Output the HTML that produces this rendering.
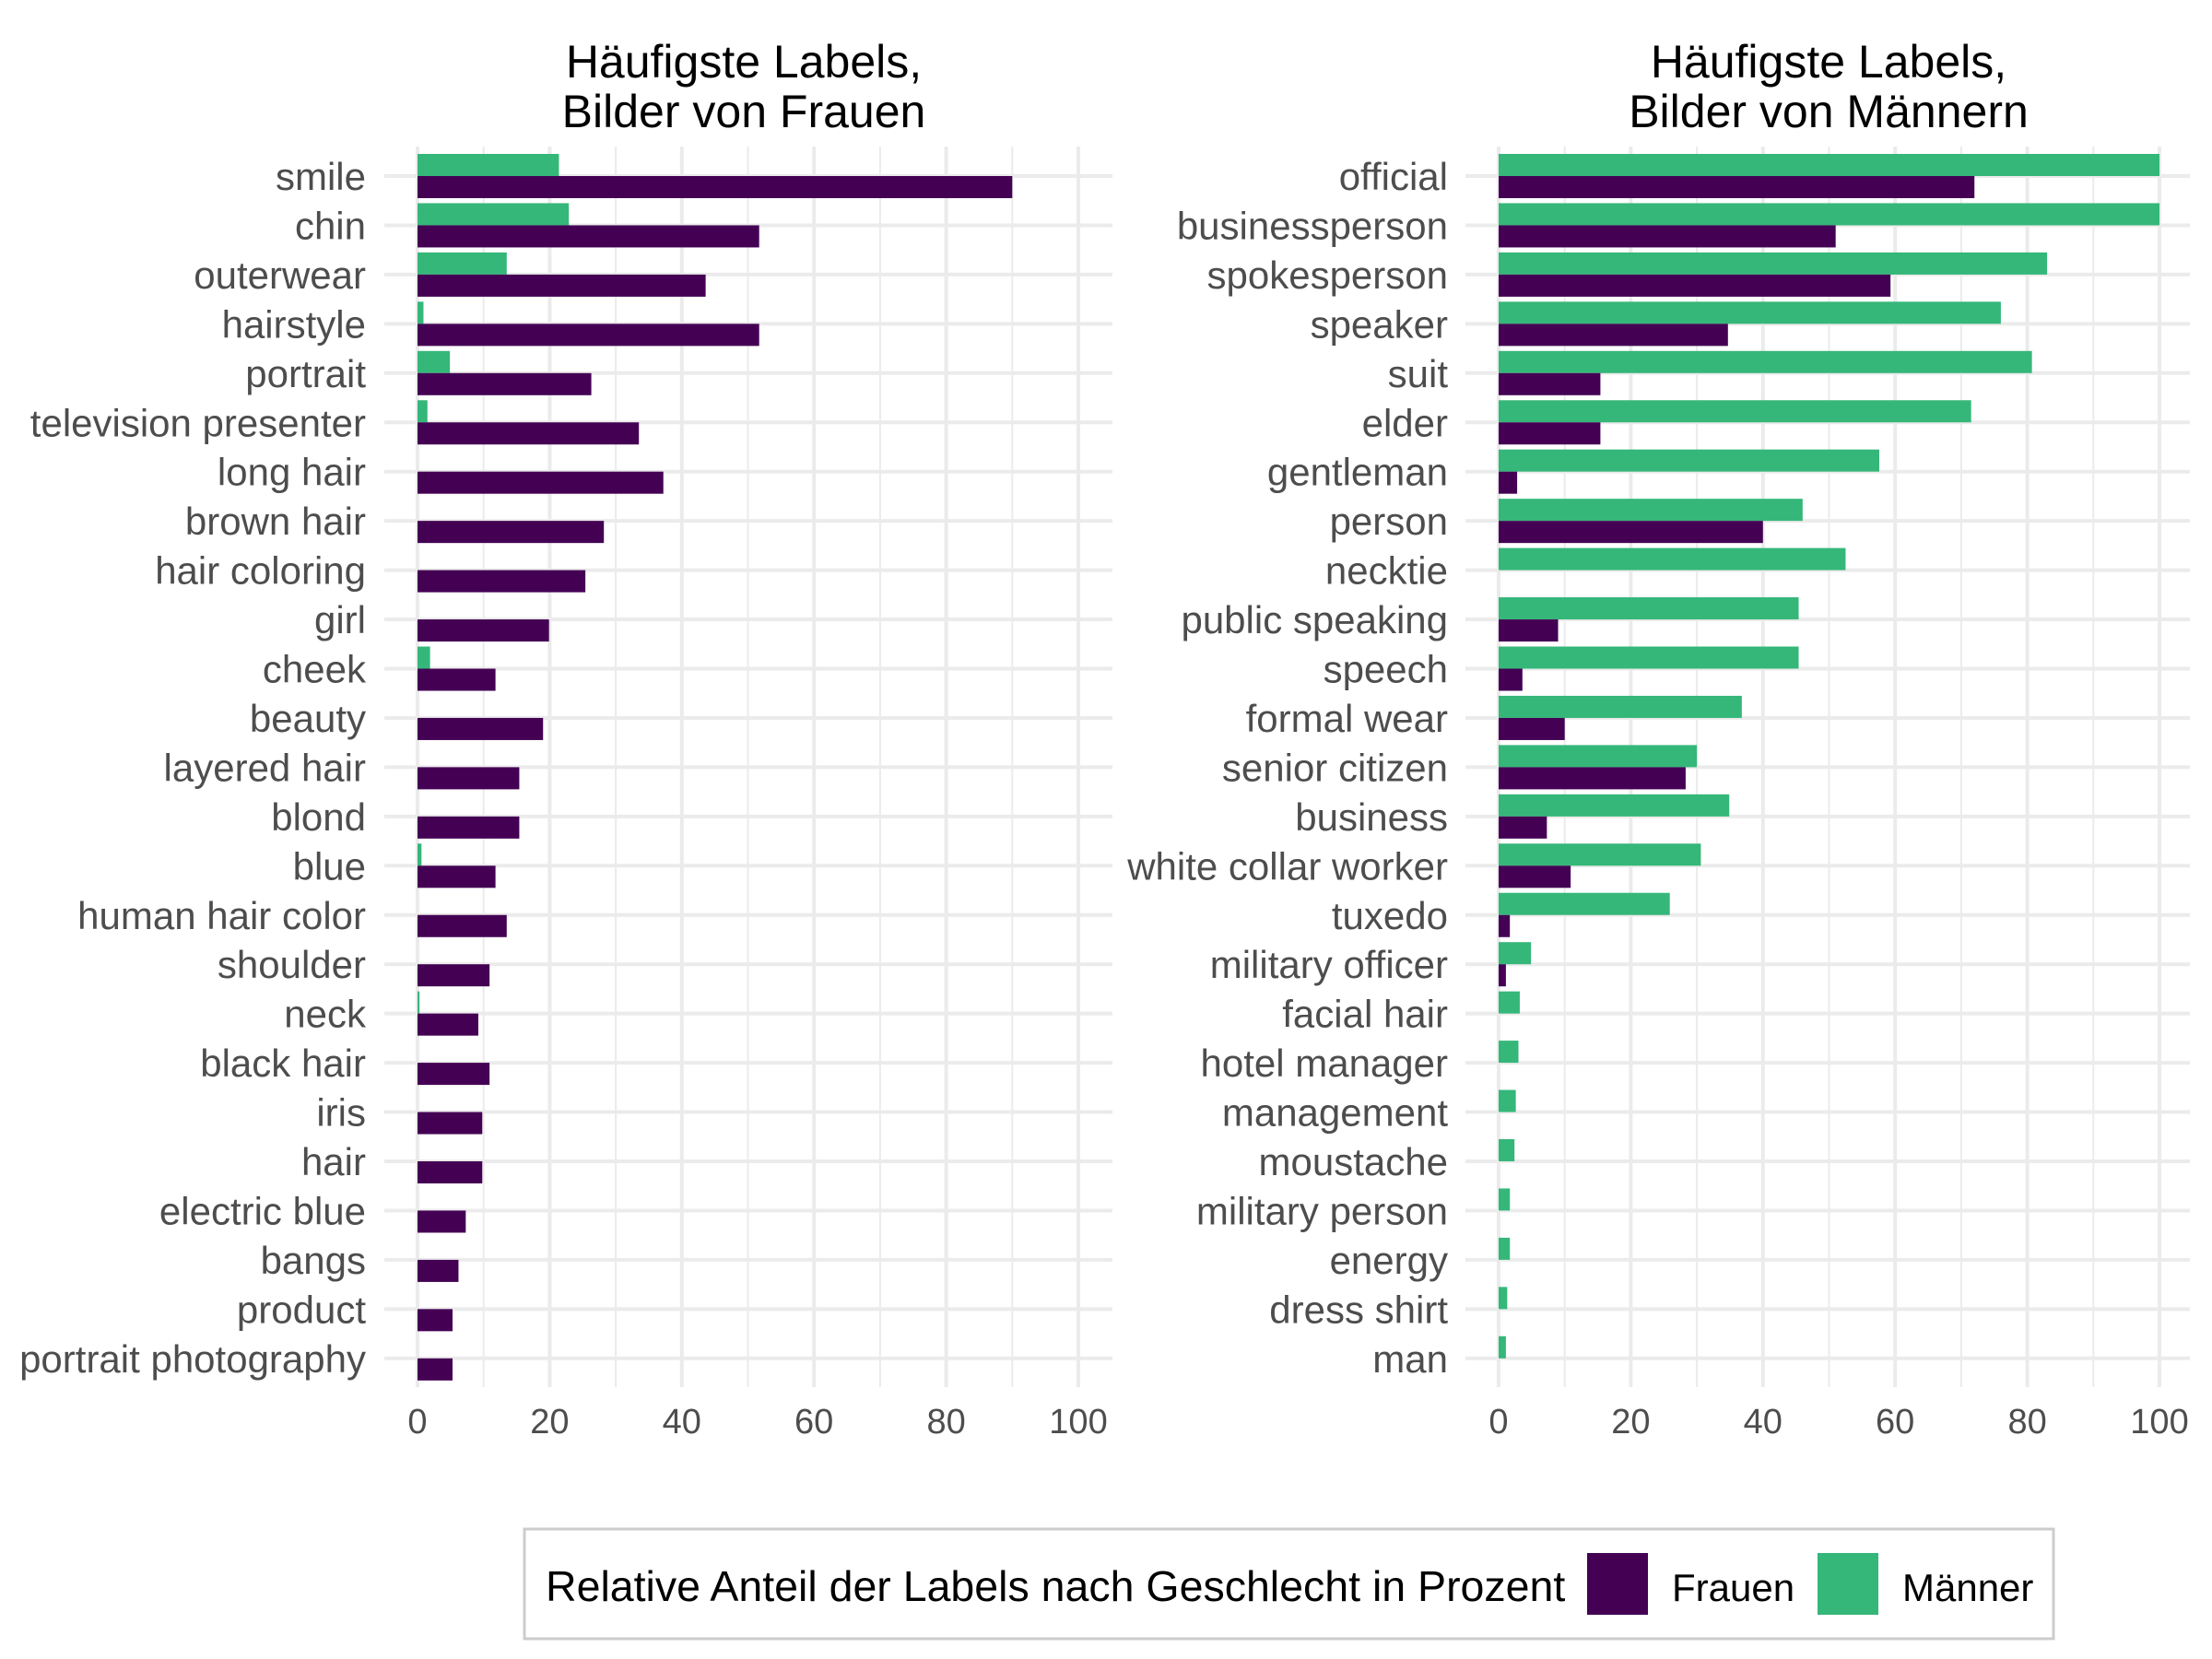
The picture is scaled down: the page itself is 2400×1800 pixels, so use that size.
<!DOCTYPE html>
<html><head><meta charset="utf-8"><style>
html,body{margin:0;padding:0;background:#fff;}
svg{display:block;font-family:"Liberation Sans",sans-serif;}
</style></head><body>
<svg id="chart" width="2400" height="1800" viewBox="0 0 2400 1800">
<g id="panels"></g>
<g>
<rect x="569" y="1667" width="1670" height="119" fill="#fff" stroke="#cccccc" stroke-width="3" transform="translate(0,-8) scale(1,1)" id="lbox"/>
<text x="592" y="1737" font-size="46.5" fill="#000">Relative Anteil der Labels nach Geschlecht in Prozent</text>
<rect x="1722" y="1685" width="66" height="67" fill="#440154"/>
<text x="1814" y="1737" font-size="42" fill="#000">Frauen</text>
<rect x="1972" y="1685" width="66" height="67" fill="#35b779"/>
<text x="2064" y="1737" font-size="42" fill="#000">Männer</text>
</g>
</svg>
<script>
document.getElementById('lbox').setAttribute('width','1659');
const leftLabels=["smile","chin","outerwear","hairstyle","portrait","television presenter","long hair","brown hair","hair coloring","girl","cheek","beauty","layered hair","blond","blue","human hair color","shoulder","neck","black hair","iris","hair","electric blue","bangs","product","portrait photography"];
const leftFrauen=[90,51.7,43.6,51.7,26.3,33.5,37.2,28.2,25.4,19.9,11.8,19,15.4,15.4,11.8,13.5,10.9,9.2,10.9,9.8,9.8,7.3,6.2,5.3,5.3];
const leftMaenner=[21.4,22.9,13.5,0.9,4.9,1.5,0,0,0,0,1.9,0,0,0,0.6,0,0,0.3,0,0,0,0,0,0,0];
const rightLabels=["official","businessperson","spokesperson","speaker","suit","elder","gentleman","person","necktie","public speaking","speech","formal wear","senior citizen","business","white collar worker","tuxedo","military officer","facial hair","hotel manager","management","moustache","military person","energy","dress shirt","man"];
const rightFrauen=[72,51,59.3,34.7,15.4,15.4,2.8,40,0,9,3.6,10,28.3,7.3,10.9,1.7,1.1,0,0,0,0,0,0,0,0];
const rightMaenner=[100,100,83,76,80.7,71.5,57.6,46,52.5,45.4,45.4,36.8,30,34.9,30.6,25.9,4.9,3.2,3,2.6,2.4,1.7,1.7,1.3,1.1];
const tickValues=[0,20,40,60,80,100];
const tickLabels=["0","20","40","60","80","100"];
const NS="http://www.w3.org/2000/svg";
const root=document.getElementById('panels');
function mk(tag,attrs,parent){const e=document.createElementNS(NS,tag);for(const k in attrs)e.setAttribute(k,attrs[k]);parent.appendChild(e);return e;}
function panel(cfg){
  const g=mk('g',{},root);
  
  
  const x=v=>cfg.x0+v*7.17;
  const y=i=>191+i*53.45;
  for(let v=10;v<=110;v+=20){if(x(v)>cfg.gridRight)continue;
    const l=mk('line',{x1:x(v),x2:x(v),y1:159,y2:1505,stroke:'#ebebeb','stroke-width':2},g);
    
    }
  tickValues.forEach((v,i)=>{
    const l=mk('line',{x1:x(v),x2:x(v),y1:159,y2:1505,stroke:'#ebebeb','stroke-width':4},g);
    
    
    const t=mk('text',{x:x(v),y:1555,'font-size':38,fill:'#4d4d4d','text-anchor':'middle'},g);
    t.textContent=tickLabels[i];
    
    
  });
  cfg.labels.forEach((lab,i)=>{
    const l=mk('line',{x1:cfg.gridLeft,x2:cfg.gridRight,y1:y(i),y2:y(i),stroke:'#ebebeb','stroke-width':4},g);
    
    
  });
  cfg.labels.forEach((lab,i)=>{
    const gm=cfg.maenner[i], fr=cfg.frauen[i];
    if(gm>0){const r=mk('rect',{x:x(0),y:y(i)-24,width:gm*7.17,height:24,fill:'#35b779'},g);
      
      }
    if(fr>0){const r=mk('rect',{x:x(0),y:y(i),width:fr*7.17,height:24,fill:'#440154'},g);
      
      }
    const t=mk('text',{x:cfg.labelX,y:y(i)+15,'font-size':42,fill:'#4d4d4d','text-anchor':'end'},g);
    t.textContent=lab;
    
    
  });
  cfg.title.forEach((s,k)=>{
    const t=mk('text',{x:cfg.titleX,y:84+k*54,'font-size':50,fill:'#000','text-anchor':'middle'},g);
    t.textContent=s;
    
    
  });
}
panel({name:'panel-frauen',x0:453,gridLeft:417,gridRight:1207,labelX:397,titleX:807,labels:leftLabels,frauen:leftFrauen,maenner:leftMaenner,title:["Häufigste Labels,","Bilder von Frauen"]});
panel({name:'panel-maenner',x0:1626,gridLeft:1590,gridRight:2376,labelX:1571,titleX:1984,labels:rightLabels,frauen:rightFrauen,maenner:rightMaenner,title:["Häufigste Labels,","Bilder von Männern"]});
</script>
</body></html>
